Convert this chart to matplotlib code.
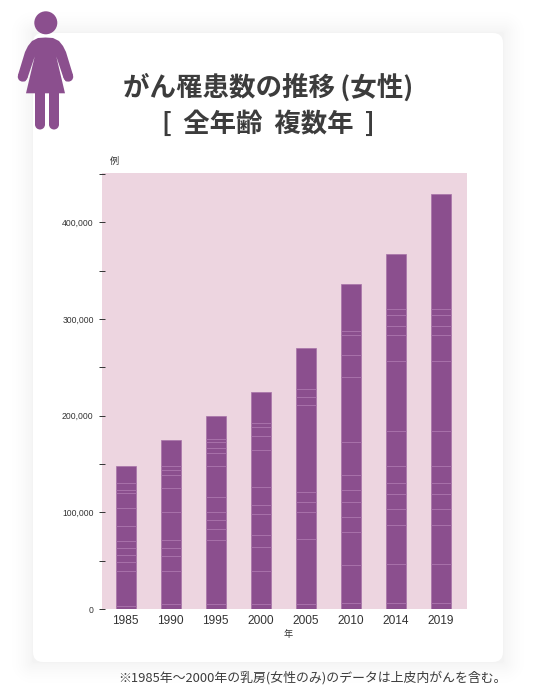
import matplotlib
matplotlib.use('Agg')
import matplotlib.pyplot as plt
import numpy as np
from matplotlib.patches import FancyBboxPatch, Circle, Polygon, Rectangle

plt.rcParams['font.family'] = ['Noto Sans CJK JP', 'DejaVu Sans']

years = ['1985', '1990', '1995', '2000', '2005', '2010', '2014', '2019']
totals = [147800, 174400, 200000, 224000, 269800, 336000, 367000, 429000]

# cumulative values where a light divider crosses each bar
dividers = [
    [130000, 123000, 119600, 105000, 85500, 70000, 63700, 56500, 49300, 39000, 3800],
    [147800, 143400, 138200, 124800, 100000, 72000, 63700, 54500, 39000, 4900],
    [175700, 172300, 166400, 161000, 147800, 115500, 100000, 92700, 83400, 72000, 4900],
    [192000, 188000, 178800, 165000, 126400, 107200, 98900, 77200, 63800, 40000, 4900],
    [228000, 219800, 211500, 121600, 110300, 100000, 73000, 4900],
    [288000, 283000, 263000, 239500, 172300, 139200, 123700, 111300, 95800, 80300, 45200, 5900],
    [309800, 303600, 292200, 283000, 257000, 183700, 147500, 130000, 118600, 104000, 87500, 47200, 6900],
    [309800, 303600, 292200, 283000, 257000, 183700, 147500, 130000, 118600, 104000, 87500, 47200, 6900],
]

W, H = 536, 696
PURPLE = '#8b4f8e'
fig = plt.figure(figsize=(W / 100, H / 100), dpi=100, facecolor='white')

# page layer in pixel coordinates
bg = fig.add_axes([0, 0, 1, 1])
bg.axis('off')

# soft shadow round the card
xx, yy = np.meshgrid(np.arange(W) + .5, np.arange(H) + .5)
dx = np.maximum(np.maximum(33 - xx, xx - 503), 0)
dy = np.maximum(np.maximum(33 - yy, yy - 662), 0)
dist = np.hypot(dx, dy)
shade = 1 - 0.045 * np.clip(1 - dist / 30, 0, 1) ** 2
bg.imshow(shade, cmap='gray', vmin=0, vmax=1, extent=(0, W, H, 0), aspect='auto', zorder=0)
bg.set_xlim(0, W)
bg.set_ylim(H, 0)

bg.add_patch(FancyBboxPatch((33, 33), 470, 629, boxstyle='round,pad=0,rounding_size=10',
                            fc='white', ec='none', zorder=1))

# woman icon
half = [(45.5, 37.5), (38, 38), (32, 41), (28, 46), (25, 52), (18, 75), (20, 80), (25, 81.5), (27.5, 78),
        (34.7, 56.5), (26, 93.3)]
outline = half + [(91 - x, y) for x, y in reversed(half)]
bg.add_patch(Circle((45.8, 22.8), 11.5, fc=PURPLE, ec='none', zorder=2))
bg.add_patch(Polygon(outline, fc=PURPLE, ec='none', zorder=2))
bg.add_patch(Circle((22.6, 76.8), 4.8, fc=PURPLE, ec='none', zorder=2))
bg.add_patch(Circle((68.4, 76.8), 4.8, fc=PURPLE, ec='none', zorder=2))
for x0 in (35, 49):
    bg.add_patch(Rectangle((x0, 90), 10, 34.5, fc=PURPLE, ec='none', zorder=2))
    bg.add_patch(Circle((x0 + 5, 124.5), 5, fc=PURPLE, ec='none', zorder=2))

# titles
TXT = '#3c3c3c'
bg.text(268, 87.5, 'がん罹患数の推移\u2009(女性)', fontsize=19.1, fontweight='bold', color=TXT,
        ha='center', va='center')
bg.text(268, 124.5, '[\u2009 全年齢  複数年 \u2009]', fontsize=19, fontweight='bold', color=TXT,
        ha='center', va='center')
bg.text(312.5, 678, '※1985年〜2000年の乳房(女性のみ)のデータは上皮内がんを含む。', fontsize=9.3,
        color=TXT, ha='center', va='center')

# chart
ax = fig.add_axes([102 / W, 1 - 609.2 / H, (467 - 102) / W, (609.2 - 173.2) / H])
ax.set_facecolor('#edd5e0')
positions = list(range(len(years)))
bar_w = 20 / 45
ax.bar(positions, totals, width=bar_w, color=PURPLE, edgecolor='#a772a8', linewidth=0.5, zorder=2)
for pos, cuts in zip(positions, dividers):
    for c in cuts:
        ax.plot([pos - bar_w / 2, pos + bar_w / 2], [c, c], color='#a872aa', lw=0.7, zorder=3,
                solid_capstyle='butt')

ax.set_xlim((102 - 125.7) / 45, (467 - 125.7) / 45)
ax.set_ylim(0, 436 / 387 * 400000)
ax.set_xticks(positions)
ax.set_xticklabels(years, fontsize=8.6, color='#333333', family='Liberation Sans')
ax.set_yticks(range(0, 400001, 100000))
ax.set_yticklabels([f'{v:,}' for v in range(0, 400001, 100000)], fontsize=6.2,
                   color='#333333', family='Liberation Sans')
ax.set_yticks(range(50000, 450001, 100000), minor=True)
ax.tick_params(axis='x', length=0, pad=4)
ax.tick_params(axis='y', which='both', length=5, width=0.7, color='#333333', direction='inout', pad=3.5)
for s in ax.spines.values():
    s.set_visible(False)

bg.text(114, 161, '例', fontsize=6.6, color='#333333', ha='center', va='center')
bg.text(288, 634, '年', fontsize=6.6, color='#333333', ha='center', va='center')

fig.savefig('out.png', dpi=100)
